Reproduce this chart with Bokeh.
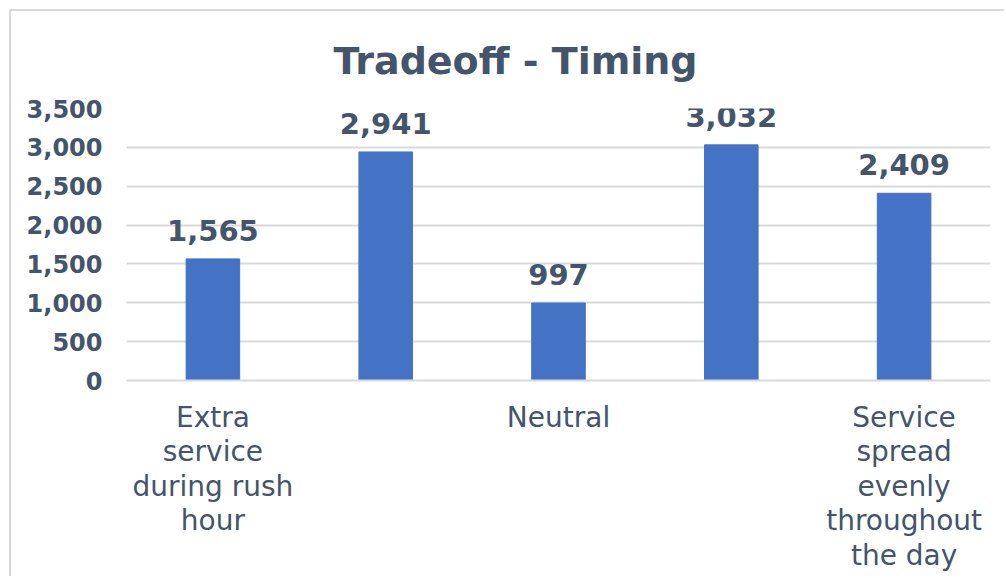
from bokeh.plotting import figure
from bokeh.models import Range1d, FixedTicker, ColumnDataSource, LabelSet, NumeralTickFormatter
from bokeh.core.properties import value
from bokeh.embed import file_html
from bokeh.resources import INLINE

categories = ["Extra\nservice\nduring rush\nhour", "", "Neutral", "", "Service\nspread\nevenly\nthroughout\nthe day"]
values = [1565, 2941, 997, 3032, 2409]
value_labels = ["1,565", "2,941", "997", "3,032", "2,409"]
y_ticks = [0, 500, 1000, 1500, 2000, 2500, 3000, 3500]

TEXT = "#44546A"
BAR = "#4472C4"
GRID = "#D9D9D9"
FONT = "DejaVu Sans"

xs = list(range(len(values)))
src = ColumnDataSource(dict(x=xs, top=values, lab=value_labels))

p = figure(width=995, height=567, output_backend="svg", toolbar_location=None,
           x_range=Range1d(-0.5, len(values) - 0.5), y_range=Range1d(0, 3500),
           title="Tradeoff - Timing",
           min_border_left=115, min_border_right=16, min_border_top=97, min_border_bottom=198)
p.styles = {"margin-left": "9px", "margin-top": "9px",
            "border-top": "2px solid #D9D9D9", "border-left": "2px solid #D9D9D9"}

p.title.align = "left"
p.title.offset = 207
p.title.standoff = 51
p.title.text_font = FONT
p.title.text_font_size = "38px"
p.title.text_font_style = "bold"
p.title.text_color = TEXT

p.vbar(x="x", top="top", bottom=0, width=0.31, color=BAR, source=src)

p.add_layout(LabelSet(x="x", y="top", text="lab", source=src, text_align="center",
                      text_baseline="alphabetic", y_offset=18, text_font=value(FONT),
                      text_font_size=value("29px"), text_font_style="bold", text_color=TEXT,
                      level="overlay"))

p.outline_line_color = None
p.background_fill_color = "white"
p.border_fill_color = "white"

p.xgrid.grid_line_color = None
p.ygrid.grid_line_color = GRID
p.ygrid.grid_line_width = 2
p.ygrid.ticker = FixedTicker(ticks=y_ticks)

p.yaxis.ticker = FixedTicker(ticks=y_ticks)
p.yaxis.formatter = NumeralTickFormatter(format="0,0")
p.yaxis.axis_line_color = None
p.yaxis.major_tick_line_color = None
p.yaxis.major_tick_out = 0
p.yaxis.major_tick_in = 0
p.yaxis.minor_tick_line_color = None
p.yaxis.major_label_standoff = 24
p.yaxis.major_label_text_font = FONT
p.yaxis.major_label_text_font_size = "24px"
p.yaxis.major_label_text_font_style = "bold"
p.yaxis.major_label_text_color = TEXT

p.xaxis.ticker = FixedTicker(ticks=xs)
p.xaxis.major_label_overrides = {i: c for i, c in enumerate(categories)}
p.xaxis.axis_line_color = GRID
p.xaxis.axis_line_width = 2
p.xaxis.major_tick_line_color = None
p.xaxis.major_tick_out = 0
p.xaxis.major_tick_in = 0
p.xaxis.minor_tick_line_color = None
p.xaxis.major_label_standoff = 20
p.xaxis.major_label_text_font = FONT
p.xaxis.major_label_text_font_size = "28px"
p.xaxis.major_label_text_color = TEXT
p.xaxis.major_label_text_line_height = 1.05

open("out.html", "w").write(file_html(p, INLINE))
